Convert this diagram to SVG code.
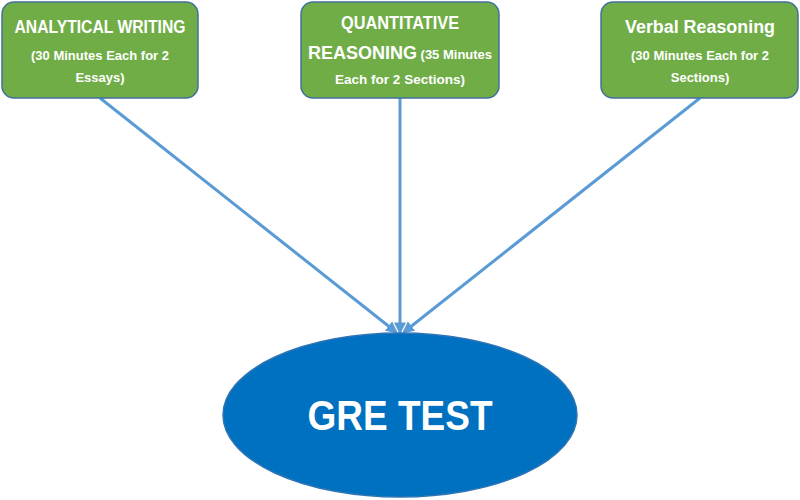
<svg xmlns="http://www.w3.org/2000/svg" width="800" height="500" viewBox="0 0 800 500">
<defs>
<style>
.box{fill:#70AD47;stroke:#41719C;stroke-width:1.5}
.t{font-family:"Liberation Sans",Arial,sans-serif;font-weight:bold;fill:#fff;text-anchor:middle}
.h{font-size:18px}
.s{font-size:13px}
.c{stroke:#5B9BD5;stroke-width:3;fill:none;marker-end:url(#a)}
</style>
<marker id="a" viewBox="0 0 10 10" refX="8" refY="5" markerWidth="4" markerHeight="4" orient="auto" markerUnits="strokeWidth">
<path d="M0,0 L10,5 L0,10 z" fill="#5B9BD5"/>
</marker>
</defs>
<rect width="800" height="500" fill="#fff"/>
<g id="connectors">
<line class="c" x1="100" y1="98" x2="396" y2="332"/>
<line class="c" x1="400" y1="98" x2="400" y2="332"/>
<line class="c" x1="700" y1="98" x2="404" y2="332"/>
</g>
<g id="analytical">
<rect class="box" x="2" y="2" width="196" height="96" rx="12"/>
<text class="t h" x="100" y="33" textLength="171" lengthAdjust="spacingAndGlyphs">ANALYTICAL WRITING</text>
<text class="t s" x="100" y="60" textLength="138" lengthAdjust="spacingAndGlyphs">(30 Minutes Each for 2</text>
<text class="t s" x="100" y="82">Essays)</text>
</g>
<g id="quantitative">
<rect class="box" x="301" y="2" width="198" height="96" rx="12"/>
<text class="t h" x="400" y="29" textLength="118" lengthAdjust="spacingAndGlyphs">QUANTITATIVE</text>
<text class="t h" x="400" y="59"><tspan>REASONING</tspan><tspan class="s"> (35 Minutes</tspan></text>
<text class="t s" x="400" y="84" textLength="130" lengthAdjust="spacingAndGlyphs">Each for 2 Sections)</text>
</g>
<g id="verbal">
<rect class="box" x="601" y="2" width="197" height="96" rx="12"/>
<text class="t h" x="700" y="33" textLength="150" lengthAdjust="spacingAndGlyphs">Verbal Reasoning</text>
<text class="t s" x="700" y="60" textLength="138" lengthAdjust="spacingAndGlyphs">(30 Minutes Each for 2</text>
<text class="t s" x="700" y="82">Sections)</text>
</g>
<g id="gre">
<ellipse cx="400" cy="415" rx="177" ry="82" fill="#0070C0" stroke="#2E75B6" stroke-width="1.5"/>
<text class="t" x="400" y="430" font-size="42" textLength="185" lengthAdjust="spacingAndGlyphs">GRE TEST</text>
</g>
</svg>
